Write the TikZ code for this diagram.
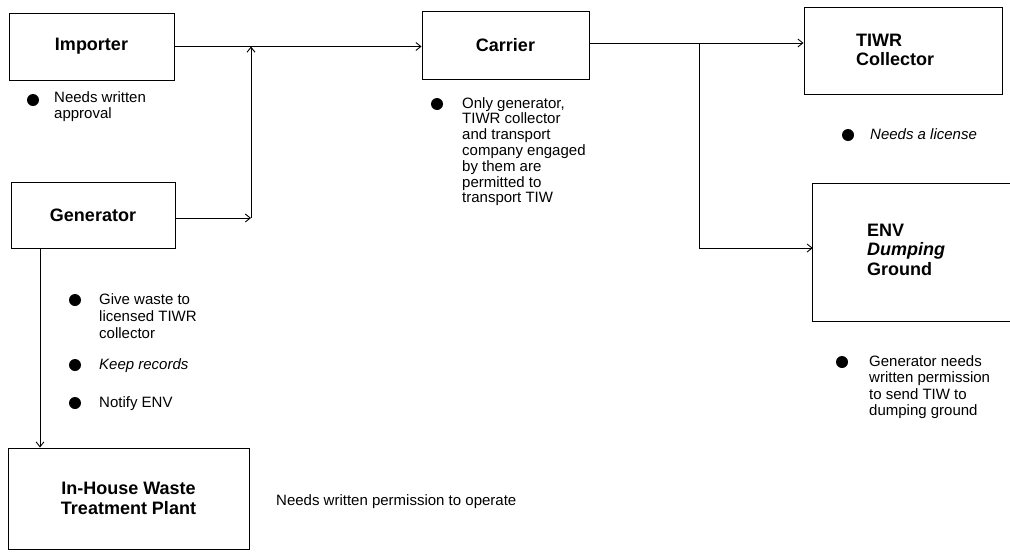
\documentclass[tikz,border=0pt]{standalone}
\usepackage{fontspec}
\setmainfont{Liberation Sans}
\usetikzlibrary{arrows.meta}
\begin{document}
\begin{tikzpicture}[x=1pt,y=-1pt,
  box/.style={draw, line width=0.9pt, inner sep=0pt, font=\fontsize{18}{20}\selectfont\bfseries, align=center},
  arr/.style={line width=0.9pt, -{Straight Barb[length=5pt,width=8pt]}},
  ln/.style={line width=0.9pt},
  dot/.style={circle, fill, inner sep=0pt, minimum size=12pt},
  txt/.style={inner sep=0pt, anchor=north west, align=left, font=\fontsize{15}{16}\selectfont},
  lbl/.style={inner sep=0pt, anchor=north west, align=left, font=\fontsize{18}{19.5}\selectfont\bfseries},
]
\useasboundingbox (0,0) rectangle (1010,552);

% boxes
\node[box, minimum width=165pt, minimum height=67pt] (importer) at (91.5,46.5) {Importer};
\node[box, minimum width=164pt, minimum height=66pt] (generator) at (93,215) {Generator};
\node[box, minimum width=241pt, minimum height=101pt] (inhouse) at (128.5,498.5) {In-House Waste\\Treatment Plant};
\node[box, minimum width=167pt, minimum height=68pt] (carrier) at (505.5,45) {Carrier};
\node[box, minimum width=198pt, minimum height=87pt] (tiwr) at (903,50.5) {};
\node[lbl] (tiwrtxt) at (856,33.5) {TIWR\\Collector};
\node[draw=none, inner sep=0pt, minimum width=198pt, minimum height=137pt] (env) at (912,252.5) {};
\draw[ln] (env.north east) -- (env.north west) -- (env.south west) -- (env.south east);
\node[lbl] (envtxt) at (867,223.5) {ENV\\\textit{Dumping}\\Ground};

% bullets and notes
\node[dot] (d1) at (33,100) {};
\node[txt] (t1) at (54,91) {Needs written\\approval};

\node[dot] (d2) at (437,104) {};
\node[txt, font=\fontsize{15}{15.8}\selectfont] (t2) at (462,97) {Only generator,\\TIWR collector\\and transport\\company engaged\\by them are\\permitted to\\transport TIW};

\node[dot] (d3) at (848,135) {};
\node[txt] (t3) at (870,128) {\textit{Needs a license}};

\node[dot] (d4) at (842,362) {};
\node[txt, font=\fontsize{15}{16.5}\selectfont] (t4) at (869,355) {Generator needs\\written permission\\to send TIW to\\dumping ground};

\node[dot] (d5) at (75,300) {};
\node[txt, font=\fontsize{15}{17}\selectfont] (t5) at (99,293) {Give waste to\\licensed TIWR\\collector};
\node[dot] (d6) at (75,365) {};
\node[txt] (t6) at (99,358) {\textit{Keep records}};
\node[dot] (d7) at (75,403) {};
\node[txt] (t7) at (99,396) {Notify ENV};

\node[txt] (t8) at (276,494) {Needs written permission to operate};

% connectors
\coordinate (j1) at (251,218);
\coordinate (j2) at (699,43);
\coordinate (j3) at (699,248);
\coordinate (gs) at (40,248);
\draw[arr] (importer.east) -- (importer.east -| carrier.west);
\draw[arr] (generator.east |- j1) -- (j1);
\draw[arr] (j1) -- (j1 |- importer.east);
\draw[arr] (gs) -- (gs |- inhouse.north);
\draw[ln] (carrier.east |- j2) -- (j2);
\draw[arr] (j2) -- (j2 -| tiwr.west);
\draw[ln] (j2) -- (j3);
\draw[arr] (j3) -- (j3 -| env.west);
\end{tikzpicture}
\end{document}
